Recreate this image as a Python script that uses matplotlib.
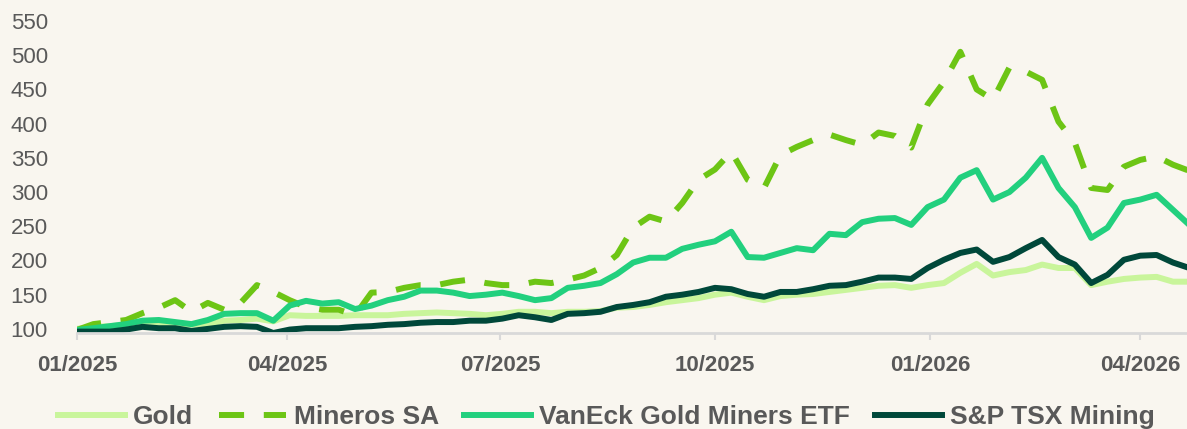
import matplotlib
matplotlib.use("Agg")
import matplotlib.pyplot as plt
import matplotlib.dates as mdates
import pandas as pd

# ---- data (weekly samples) ----
dates = pd.date_range("2025-01-01", periods=69, freq="7D")

gold = [100, 103, 104, 106, 107, 109, 107, 106, 107, 112, 113, 115, 111, 120, 119, 119,
        119, 120, 120, 120, 122, 123, 124, 123, 122, 120, 122, 125, 125, 123, 125, 125,
        126, 131, 132, 135, 139, 142, 145, 150, 153, 147, 142, 148, 150, 151, 154, 157,
        160, 163, 164, 160, 164, 167, 182, 195, 178, 183, 186, 194, 189, 189, 164, 169,
        173, 175, 176, 169, 169]

mineros = [98.5, 107, 110, 113, 123, 131, 142, 125, 138, 128, 138, 164, 154, 142, 132, 128,
           128, 120, 153, 154, 160, 164, 164, 169, 172, 167, 164, 164, 169, 167, 172, 178,
           189, 208, 248, 264, 257, 284, 318, 333, 359, 318, 306, 354, 366, 376, 384, 376,
           369, 387, 382, 365, 428, 461, 505, 450, 435, 482, 476, 464, 403, 372, 306, 303,
           337, 347, 352, 340, 331]

vaneck = [98.5, 101, 104, 107, 112, 113, 110, 107, 113, 122, 123, 123, 112, 134, 141, 137,
          139, 129, 134, 142, 147, 156, 156, 153, 148, 150, 153, 148, 142, 145, 160, 163,
          167, 180, 197, 204, 204, 217, 223, 228, 242, 205, 204, 211, 218, 215, 239, 237,
          256, 261, 262, 252, 278, 289, 321, 332, 289, 300, 321, 350, 306, 278, 233, 248,
          284, 289, 296, 274, 252]

sp_tsx = [96, 96, 96, 99, 103, 101, 101, 97, 100, 103, 104, 103, 94, 99, 101, 101,
          101, 103, 104, 106, 107, 109, 110, 110, 112, 112, 115, 120, 117, 113, 122, 123,
          125, 132, 135, 139, 147, 150, 154, 160, 158, 151, 147, 154, 154, 158, 163, 164,
          169, 175, 175, 173, 189, 201, 211, 216, 198, 205, 218, 230, 205, 194, 167, 179,
          201, 207, 208, 197, 189]

series_names = ["Gold", "Mineros SA", "VanEck Gold Miners ETF", "S&P TSX Mining"]
yticks = [100, 150, 200, 250, 300, 350, 400, 450, 500, 550]

# ---- style ----
BG = "#F9F6EF"
TXT = "#595959"
AX = "#D9D9D9"
colors = ["#C9F59B", "#6DC515", "#22D07E", "#00483A"]

plt.rcParams["font.family"] = ["Liberation Sans", "DejaVu Sans"]

fig = plt.figure(figsize=(11.87, 4.29), dpi=100, facecolor=BG)
ax = fig.add_axes([77 / 1187, 96 / 429, 1 - 77 / 1187, 312 / 429])
ax.set_facecolor(BG)

lw = 4.3
ax.plot(dates, gold, color=colors[0], lw=lw, label=series_names[0], solid_joinstyle="round")
ax.plot(dates, mineros, color=colors[1], lw=lw, label=series_names[1], dashes=(4.2, 3.3))
ax.plot(dates, vaneck, color=colors[2], lw=lw, label=series_names[2], solid_joinstyle="round")
ax.plot(dates, sp_tsx, color=colors[3], lw=lw, label=series_names[3], solid_joinstyle="round")

ax.set_xlim(pd.Timestamp("2025-01-01"), pd.Timestamp("2026-04-21"))
ax.set_ylim(94, 550)
ax.set_yticks(yticks)
ax.tick_params(axis="y", length=0, pad=21, labelsize=16, labelcolor=TXT)

ax.xaxis.set_major_locator(mdates.MonthLocator(bymonth=[1, 4, 7, 10]))
ax.xaxis.set_major_formatter(mdates.DateFormatter("%m/%Y"))
ax.tick_params(axis="x", length=5, width=1.5, color=AX, pad=11, labelsize=16, labelcolor=TXT)
for lab in ax.get_xticklabels():
    lab.set_fontweight("bold")

for s in ["top", "right", "left"]:
    ax.spines[s].set_visible(False)
ax.spines["bottom"].set_color(AX)
ax.spines["bottom"].set_linewidth(2)

leg = fig.legend(loc="center", bbox_to_anchor=(0.511, 0.028), ncol=4, frameon=False,
                 prop={"size": 19, "weight": "bold"}, handlelength=2.55,
                 handletextpad=0.3, columnspacing=0.95, borderaxespad=0)
for t in leg.get_texts():
    t.set_color(TXT)

fig.savefig("out.png", dpi=100, facecolor=BG)
